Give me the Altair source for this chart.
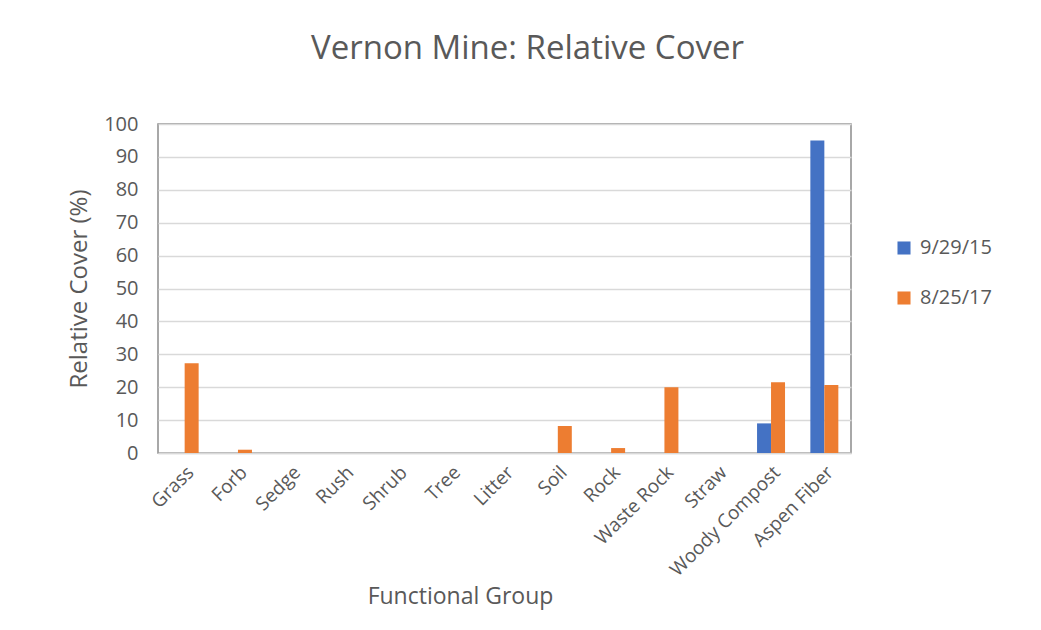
import altair as alt
import pandas as pd

categories = ["Grass", "Forb", "Sedge", "Rush", "Shrub", "Tree", "Litter",
              "Soil", "Rock", "Waste Rock", "Straw", "Woody Compost", "Aspen Fiber"]
series_names = ["9/29/15", "8/25/17"]
values_2015 = [0, 0, 0, 0, 0, 0, 0, 0, 0, 0, 0, 9.0, 95.0]
values_2017 = [27.3, 1.0, 0, 0, 0, 0, 0, 8.2, 1.5, 20.0, 0, 21.5, 20.7]
colors = ["#4472C4", "#ED7D31"]

rows = []
for c, a, b in zip(categories, values_2015, values_2017):
    rows.append({"group": c, "date": series_names[0], "cover": a})
    rows.append({"group": c, "date": series_names[1], "cover": b})
df = pd.DataFrame(rows)

FONT = "Open Sans"
GRAY = "#595959"

chart = alt.Chart(df).mark_bar().encode(
    x=alt.X("group:N", sort=categories,
            scale=alt.Scale(paddingInner=0.475, paddingOuter=0.2375),
            axis=alt.Axis(title="Functional Group", labelAngle=-45,
                          labelAlign="right", labelBaseline="middle",
                          labelPadding=16, labelOffset=6, ticks=False,
                          domainColor="#d9d9d9",
                          domainWidth=1.5, labelFontSize=19, labelColor=GRAY,
                          titleFontSize=23, titleColor=GRAY, titleFontWeight="normal",
                          titleX=302, titleY=150, titleBaseline="alphabetic",
                          labelFont=FONT, titleFont=FONT)),
    xOffset=alt.XOffset("date:N", sort=series_names,
                        scale=alt.Scale(paddingInner=0, paddingOuter=0)),
    y=alt.Y("cover:Q", scale=alt.Scale(domain=[0, 100], nice=False),
            axis=alt.Axis(title="Relative Cover (%)", values=list(range(0, 101, 10)),
                          ticks=False, domain=False, gridColor="#d9d9d9",
                          gridWidth=1.5, labelFontSize=20, labelColor=GRAY,
                          labelPadding=20, titleFontSize=24, titleColor=GRAY,
                          titleFontWeight="normal", titlePadding=12,
                          labelFont=FONT, titleFont=FONT)),
    color=alt.Color("date:N", sort=series_names,
                    scale=alt.Scale(domain=series_names, range=colors),
                    legend=alt.Legend(title=None, orient="none", legendX=736,
                                      legendY=114, symbolType="square",
                                      symbolSize=170, symbolStrokeWidth=0,
                                      labelFontSize=20, labelColor=GRAY,
                                      labelFont=FONT, rowPadding=30,
                                      labelOffset=6)),
).properties(
    width=693, height=329,
    title=alt.TitleParams("Vernon Mine: Relative Cover", fontSize=33,
                          font=FONT, color=GRAY, fontWeight="normal",
                          anchor="middle", dx=23, offset=48),
    autosize=alt.AutoSizeParams(type="none"),
    padding={"left": 150, "top": 116, "right": 182, "bottom": 169},
).configure_view(
    stroke="#8c8c8c", strokeWidth=1.5
)

chart.save("out.html", embed_options={"renderer": "svg", "actions": False})
